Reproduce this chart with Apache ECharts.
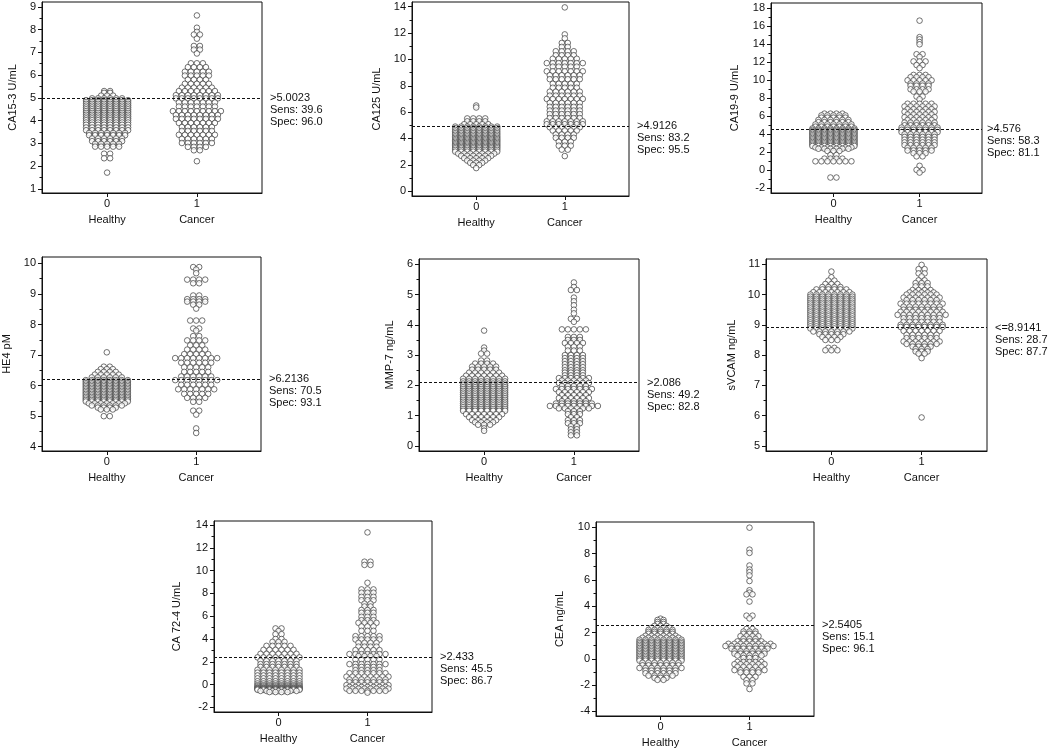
<!DOCTYPE html>
<html>
<head>
<meta charset="utf-8">
<script src="https://cdn.jsdelivr.net/npm/echarts@6/dist/echarts.min.js"></script>
<style>html,body{margin:0;padding:0;background:#fff}#chart{width:1050px;height:751px}</style>
</head>
<body>
<div id="chart"></div>
<script>
// ---------- data ----------
const categories = ['Healthy', 'Cancer'];
const axisNames = ['CA15-3 U/mL', 'CA125 U/mL', 'CA19-9 U/mL', 'HE4 pM', 'MMP-7 ng/mL', 'sVCAM ng/mL', 'CA 72-4 U/mL', 'CEA ng/mL'];
const cutoffs = [5.0023, 4.9126, 4.576, 6.2136, 2.086, 8.9141, 2.433, 2.5405];
const cutoffLabels = ['>5.0023', '>4.9126', '>4.576', '>6.2136', '>2.086', '<=8.9141', '>2.433', '>2.5405'];
const sensValues = [39.6, 83.2, 58.3, 70.5, 49.2, 28.7, 45.5, 15.1];
const specValues = [96.0, 95.5, 81.1, 93.1, 82.8, 87.7, 86.7, 96.1];

const ticksCA153 = [1, 2, 3, 4, 5, 6, 7, 8, 9];
const ticksCA125 = [0, 2, 4, 6, 8, 10, 12, 14];
const ticksCA199 = [-2, 0, 2, 4, 6, 8, 10, 12, 14, 16, 18];
const ticksHE4 = [4, 5, 6, 7, 8, 9, 10];
const ticksMMP7 = [0, 1, 2, 3, 4, 5, 6];
const ticksSVCAM = [5, 6, 7, 8, 9, 10, 11];
const ticksCA724 = [-2, 0, 2, 4, 6, 8, 10, 12, 14];
const ticksCEA = [-4, -2, 0, 2, 4, 6, 8, 10];

// rows of dots: [value, number of dots side by side at that value]
const ca153Healthy = [[5.3,2],[5.22,2],[5.1,3],[4.98,6],[4.9,8],[4.82,8],[4.74,8],[4.66,8],[4.58,8],[4.5,8],[4.42,8],[4.34,8],[4.26,8],[4.18,8],[4.1,8],[4.02,8],[3.92,8],[3.82,8],[3.7,8],[3.58,8],[3.46,7],[3.36,7],[3.22,6],[3.1,6],[2.98,5],[2.86,5],[2.55,2],[2.35,2],[1.72,1]];
const ca153Cancer = [[8.62,1],[8.08,1],[7.9,1],[7.78,2],[7.6,1],[7.28,2],[7.12,2],[6.95,1],[6.52,3],[6.35,4],[6.15,5],[5.98,5],[5.8,4],[5.62,5],[5.45,6],[5.3,7],[5.12,8],[4.98,8],[4.8,7],[4.62,7],[4.42,9],[4.25,8],[4.08,8],[3.9,7],[3.72,6],[3.55,6],[3.38,7],[3.2,6],[3.02,6],[2.85,4],[2.7,2],[2.22,1]];

const ca125Healthy = [[6.5,1],[6.35,1],[5.52,4],[5.3,4],[5.08,5],[4.9,8],[4.78,8],[4.65,8],[4.52,8],[4.4,8],[4.28,8],[4.16,8],[4.05,8],[3.95,8],[3.85,8],[3.75,8],[3.65,8],[3.55,8],[3.45,8],[3.35,8],[3.25,8],[3.13,8],[3.0,8],[2.85,7],[2.68,6],[2.5,5],[2.32,4],[2.15,3],[1.98,2],[1.75,1]];
const ca125Cancer = [[13.95,1],[11.9,1],[11.6,1],[11.25,2],[10.95,2],[10.62,4],[10.32,4],[10.05,5],[9.72,7],[9.45,5],[9.1,7],[8.8,6],[8.5,6],[8.15,5],[7.85,5],[7.55,6],[7.25,6],[7.0,7],[6.7,6],[6.4,6],[6.12,6],[5.85,6],[5.55,6],[5.3,7],[5.08,7],[4.85,6],[4.6,5],[4.3,4],[4.05,4],[3.75,3],[3.45,3],[3.15,2],[2.66,1]];

const ca199Healthy = [[6.3,4],[6.1,5],[5.85,5],[5.6,6],[5.35,6],[5.1,7],[4.85,7],[4.65,8],[4.5,8],[4.35,8],[4.2,8],[4.05,8],[3.9,8],[3.75,8],[3.6,8],[3.45,8],[3.3,8],[3.15,8],[3.0,8],[2.85,8],[2.7,8],[2.55,7],[2.4,6],[2.15,3],[1.7,2],[1.3,4],[1.0,7],[-0.8,2]];
const ca199Cancer = [[16.63,1],[14.8,1],[14.55,1],[14.25,1],[14.0,1],[12.9,2],[12.6,1],[12.1,3],[11.7,2],[11.35,1],[10.6,3],[10.35,4],[10.0,5],[9.65,4],[9.4,4],[9.0,4],[8.75,3],[8.2,2],[7.9,1],[7.4,5],[7.1,6],[6.8,5],[6.5,6],[6.2,5],[5.9,6],[5.6,5],[5.3,6],[5.0,6],[4.75,7],[4.5,7],[4.25,7],[4.0,6],[3.7,6],[3.4,6],[3.1,6],[2.8,6],[2.5,5],[2.2,5],[1.9,3],[1.55,2],[0.5,1],[0.05,2],[-0.25,1]];

const he4Healthy = [[7.09,1],[6.62,2],[6.54,3],[6.45,4],[6.36,5],[6.27,6],[6.18,8],[6.13,8],[6.08,8],[6.03,8],[5.98,8],[5.93,8],[5.88,8],[5.83,8],[5.78,8],[5.73,8],[5.68,8],[5.63,8],[5.58,8],[5.53,8],[5.48,8],[5.42,7],[5.35,6],[5.28,4],[5.22,3],[5.0,2]];
const he4Cancer = [[9.88,2],[9.8,1],[9.68,1],[9.47,4],[9.35,2],[8.95,2],[8.83,4],[8.75,4],[8.65,2],[8.52,1],[8.13,3],[7.87,2],[7.8,1],[7.62,2],[7.48,4],[7.32,3],[7.18,4],[7.03,5],[6.9,8],[6.75,6],[6.6,5],[6.45,5],[6.3,6],[6.18,8],[6.03,6],[5.88,7],[5.73,5],[5.6,4],[5.47,2],[5.18,2],[5.05,1],[4.6,1],[4.45,1]];

const mmp7Healthy = [[3.81,1],[3.25,1],[3.15,1],[3.05,2],[2.82,2],[2.72,4],[2.62,5],[2.52,5],[2.42,6],[2.32,7],[2.22,8],[2.13,8],[2.06,8],[2.0,8],[1.94,8],[1.88,8],[1.82,8],[1.76,8],[1.7,8],[1.64,8],[1.58,8],[1.52,8],[1.46,8],[1.4,8],[1.34,8],[1.28,8],[1.22,8],[1.16,8],[1.05,7],[0.95,6],[0.85,5],[0.78,4],[0.7,3],[0.58,1],[0.5,1]];
const mmp7Cancer = [[5.4,1],[5.25,1],[5.15,2],[4.9,1],[4.78,1],[4.65,1],[4.5,1],[4.38,1],[4.2,2],[4.1,1],[3.85,5],[3.6,3],[3.5,3],[3.4,4],[3.28,3],[3.15,3],[3.0,4],[2.9,4],[2.8,4],[2.7,4],[2.6,4],[2.5,4],[2.42,4],[2.33,4],[2.24,6],[2.16,5],[2.08,6],[1.98,5],[1.88,7],[1.78,6],[1.68,5],[1.58,6],[1.48,5],[1.4,7],[1.32,9],[1.24,6],[1.15,3],[1.05,3],[0.95,2],[0.85,3],[0.75,3],[0.65,2],[0.55,2],[0.45,2],[0.35,2]];

const svcamHealthy = [[10.76,1],[10.57,1],[10.46,2],[10.35,3],[10.25,4],[10.17,6],[10.08,7],[10.0,8],[9.93,8],[9.86,8],[9.8,8],[9.73,8],[9.67,8],[9.6,8],[9.54,8],[9.47,8],[9.41,8],[9.34,8],[9.28,8],[9.21,8],[9.15,8],[9.08,8],[9.02,8],[8.95,8],[8.88,8],[8.78,7],[8.69,5],[8.6,4],[8.5,3],[8.24,2],[8.16,3]];
const svcamCancer = [[10.98,1],[10.84,2],[10.7,2],[10.6,1],[10.47,2],[10.38,3],[10.27,3],[10.15,4],[10.07,5],[10.0,6],[9.9,7],[9.82,6],[9.7,8],[9.6,7],[9.5,7],[9.43,8],[9.33,9],[9.22,7],[9.1,7],[9.0,8],[8.93,8],[8.8,7],[8.67,6],[8.56,6],[8.45,7],[8.37,6],[8.28,4],[8.2,3],[8.12,3],[8.05,2],[7.9,1],[5.94,1]];

const ca724Healthy = [[4.93,2],[4.7,1],[4.43,2],[4.0,2],[3.75,3],[3.4,5],[3.05,6],[2.7,7],[2.39,8],[2.1,7],[1.8,7],[1.55,7],[1.3,8],[1.05,8],[0.8,8],[0.55,8],[0.3,8],[0.1,8],[-0.05,8],[-0.15,8],[-0.25,8],[-0.3,8],[-0.35,8],[-0.4,8],[-0.45,8],[-0.55,7],[-0.65,4]];
const ca724Cancer = [[13.35,1],[10.78,2],[10.5,2],[8.93,1],[8.35,3],[8.06,3],[7.7,3],[7.4,3],[7.1,2],[6.85,2],[6.55,3],[6.3,3],[5.95,3],[5.65,3],[5.42,4],[5.1,3],[4.72,3],[4.25,5],[3.96,5],[3.67,4],[3.33,4],[3.03,5],[2.68,7],[2.5,4],[2.2,5],[1.8,7],[1.55,5],[1.27,5],[1.0,7],[0.7,8],[0.45,7],[0.2,7],[-0.04,8],[-0.2,7],[-0.35,8],[-0.54,7],[-0.7,1]];

const ceaHealthy = [[3.05,1],[2.95,2],[2.8,2],[2.65,2],[2.5,3],[2.35,4],[2.2,5],[2.05,5],[1.9,5],[1.75,6],[1.6,7],[1.45,8],[1.3,8],[1.18,8],[1.06,8],[0.94,8],[0.82,8],[0.7,8],[0.58,8],[0.46,8],[0.34,8],[0.22,8],[0.1,8],[-0.02,8],[-0.14,8],[-0.3,7],[-0.5,7],[-0.7,8],[-0.9,6],[-1.1,6],[-1.28,5],[-1.45,3],[-1.6,2]];
const ceaCancer = [[9.97,1],[8.3,1],[8.05,1],[7.09,1],[6.79,1],[6.59,1],[6.34,1],[5.91,1],[5.21,1],[5.03,1],[4.9,2],[4.35,1],[3.28,2],[3.07,1],[2.27,2],[2.07,3],[1.9,3],[1.72,4],[1.52,3],[1.32,5],[1.14,8],[0.97,9],[0.77,7],[0.57,6],[0.39,6],[0.25,5],[0.06,3],[-0.24,5],[-0.41,6],[-0.61,5],[-0.86,6],[-1.04,4],[-1.37,3],[-1.62,2],[-1.87,2],[-2.3,1]];

const healthyRows = [ca153Healthy, ca125Healthy, ca199Healthy, he4Healthy, mmp7Healthy, svcamHealthy, ca724Healthy, ceaHealthy];
const cancerRows = [ca153Cancer, ca125Cancer, ca199Cancer, he4Cancer, mmp7Cancer, svcamCancer, ca724Cancer, ceaCancer];
const majorTicks = [ticksCA153, ticksCA125, ticksCA199, ticksHE4, ticksMMP7, ticksSVCAM, ticksCA724, ticksCEA];

// ---------- layout (positions / sizes only) ----------
const layout = [
  {left: 42,  top: 2,   width: 220, height: 191, yMin: 0.825,  yMax: 9.21,  nameGap: 23.5, labelGap: 8},
  {left: 412, top: 2,   width: 217, height: 194, yMin: -0.37,  yMax: 14.36, nameGap: 29.5, labelGap: 8},
  {left: 771, top: 3,   width: 211, height: 190, yMin: -2.52,  yMax: 18.59, nameGap: 30.5, labelGap: 5},
  {left: 42,  top: 257, width: 219, height: 194, yMin: 3.86,   yMax: 10.21, nameGap: 29.5, labelGap: 8},
  {left: 419, top: 259, width: 220, height: 192, yMin: -0.168, yMax: 6.175, nameGap: 23.5, labelGap: 8},
  {left: 766, top: 259, width: 221, height: 192, yMin: 4.832,  yMax: 11.175, nameGap: 28.5, labelGap: 8},
  {left: 214, top: 521, width: 218, height: 191, yMin: -2.40,  yMax: 14.35, nameGap: 31.5, labelGap: 8},
  {left: 596, top: 522, width: 218, height: 196, yMin: -4.35,  yMax: 10.4,  nameGap: 30.5, labelGap: 8}
];
const X_MIN = -0.725, X_MAX = 1.725;
const DOT_GAP = 6;      // px between neighbouring dots in a row
const FONT = "'Liberation Sans', Arial, Helvetica, sans-serif";
const INK = '#111';

// dot-plot layout: dots sharing a value sit side by side, centred on the category
function dotRows(rows, cat, pxPerX) {
  const pts = [];
  rows.forEach(function (r) {
    const v = r[0], n = r[1];
    for (let i = 0; i < n; i++) {
      const off = (i - (n - 1) / 2) * DOT_GAP;
      pts.push([cat + off / pxPerX, v]);
    }
  });
  return pts;
}
function minorOf(ticks) {
  const m = [];
  for (let i = 0; i < ticks.length - 1; i++) m.push((ticks[i] + ticks[i + 1]) / 2);
  return m;
}

const grids = [], xAxes = [], yAxes = [], series = [];
layout.forEach(function (L, i) {
  grids.push({left: L.left, top: L.top, width: L.width, height: L.height, show: true,
    borderColor: INK, borderWidth: 1, backgroundColor: 'transparent', containLabel: false});
  xAxes.push({
    type: 'value', gridIndex: i, min: X_MIN, max: X_MAX,
    axisLine: {show: true, onZero: false, lineStyle: {color: INK, width: 1}},
    axisTick: {show: true, length: 4, inside: false, customValues: [0, 1], lineStyle: {color: INK}},
    axisLabel: {show: true, customValues: [0, 1], margin: 3, fontSize: 11, lineHeight: 16,
      color: INK, fontFamily: FONT,
      formatter: function (v) { return Math.round(v) + '\n' + categories[Math.round(v)]; }},
    splitLine: {show: false}
  });
  yAxes.push({
    type: 'value', gridIndex: i, min: L.yMin, max: L.yMax, position: 'left',
    name: axisNames[i], nameLocation: 'middle', nameGap: L.nameGap, nameRotate: 90,
    nameTextStyle: {fontSize: 11, color: INK, fontFamily: FONT},
    axisLine: {show: true, onZero: false, lineStyle: {color: INK, width: 1}},
    axisTick: {show: true, length: 4, inside: false, customValues: majorTicks[i], lineStyle: {color: INK}},
    axisLabel: {show: true, customValues: majorTicks[i], margin: 6, fontSize: 11, color: INK, fontFamily: FONT},
    splitLine: {show: false}
  });
  yAxes.push({
    type: 'value', gridIndex: i, min: L.yMin, max: L.yMax, position: 'left', offset: 0,
    axisLine: {show: false, onZero: false},
    axisTick: {show: true, length: 2.5, inside: false, customValues: minorOf(majorTicks[i]), lineStyle: {color: INK}},
    axisLabel: {show: false},
    splitLine: {show: false}
  });
  const pxPerX = L.width / (X_MAX - X_MIN);
  const dotStyle = {color: '#ffffff', borderColor: '#3a3a3a', borderWidth: 0.9};
  series.push({
    type: 'scatter', name: categories[0], xAxisIndex: i, yAxisIndex: 2 * i,
    symbol: 'circle', symbolSize: 5.6, itemStyle: dotStyle, silent: true,
    data: dotRows(healthyRows[i], 0, pxPerX)
  });
  series.push({
    type: 'scatter', name: categories[1], xAxisIndex: i, yAxisIndex: 2 * i,
    symbol: 'circle', symbolSize: 5.6, itemStyle: dotStyle, silent: true,
    data: dotRows(cancerRows[i], 1, pxPerX),
    markLine: {
      silent: true, symbol: ['none', 'none'], animation: false, z: 5,
      lineStyle: {type: [3, 2], color: INK, width: 1},
      label: {
        show: true, position: 'end', distance: L.labelGap,
        fontSize: 11, lineHeight: 12, color: INK, fontFamily: FONT,
        formatter: '\n\n' + cutoffLabels[i] + '\nSens: ' + sensValues[i].toFixed(1) + '\nSpec: ' + specValues[i].toFixed(1)
      },
      data: [{yAxis: cutoffs[i]}]
    }
  });
});

const chart = echarts.init(document.getElementById('chart'), null, {renderer: 'canvas'});
chart.setOption({
  backgroundColor: '#ffffff',
  animation: false,
  textStyle: {fontFamily: FONT},
  grid: grids, xAxis: xAxes, yAxis: yAxes, series: series
});
</script>
</body>
</html>
